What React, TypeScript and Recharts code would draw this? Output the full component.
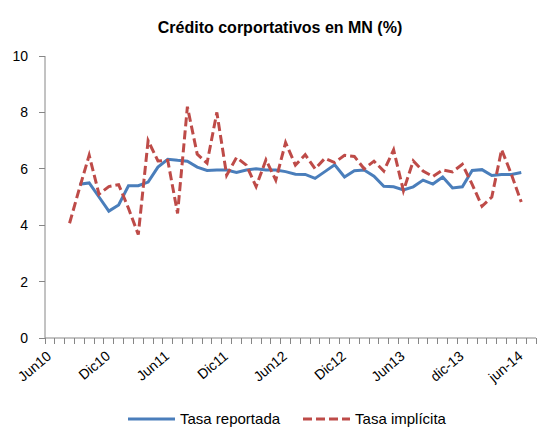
import React from 'react';
import { ComposedChart, Line, XAxis, YAxis, Scatter } from 'recharts';

const months = [
  'Jun10', 'Jul10', 'Ago10', 'Sep10', 'Oct10', 'Nov10', 'Dic10',
  'Ene11', 'Feb11', 'Mar11', 'Abr11', 'May11', 'Jun11', 'Jul11', 'Ago11', 'Sep11', 'Oct11', 'Nov11', 'Dic11',
  'Ene12', 'Feb12', 'Mar12', 'Abr12', 'May12', 'Jun12', 'Jul12', 'Ago12', 'Sep12', 'Oct12', 'Nov12', 'Dic12',
  'Ene13', 'Feb13', 'Mar13', 'Abr13', 'May13', 'Jun13', 'Jul13', 'Ago13', 'Sep13', 'Oct13', 'Nov13', 'dic-13',
  'Ene14', 'Feb14', 'Mar14', 'Abr14', 'May14', 'jun-14',
];

const tasaReportada: (number | null)[] = [
  null, null, null, 5.45, 5.5, 5.0, 4.5,
  4.72, 5.4, 5.4, 5.53, 6.06, 6.34, 6.3, 6.27, 6.06, 5.94, 5.96, 5.96,
  5.87, 5.96, 6.0, 5.96, 5.96, 5.9, 5.81, 5.8, 5.66, 5.9, 6.14, 5.71,
  5.93, 5.96, 5.74, 5.38, 5.36, 5.25, 5.36, 5.6, 5.46, 5.71, 5.32, 5.36,
  5.94, 5.97, 5.76, 5.8, 5.8, 5.87,
];

const tasaImplicita: (number | null)[] = [
  null, null, 4.07, 5.3, 6.48, 5.1, 5.37,
  5.44, 4.6, 3.67, 7.0, 6.28, 6.3, 4.42, 8.2, 6.52, 6.2, 8.0, 5.77,
  6.4, 6.13, 5.37, 6.32, 5.6, 6.93, 6.13, 6.5, 6.0, 6.37, 6.22, 6.48,
  6.44, 6.0, 6.27, 5.92, 6.67, 5.22, 6.28, 5.92, 5.73, 5.96, 5.89, 6.16,
  5.45, 4.67, 5.0, 6.68, 5.8, 4.82,
];

const labelMonths = ['Jun10', 'Dic10', 'Jun11', 'Dic11', 'Jun12', 'Dic12', 'Jun13', 'dic-13', 'jun-14'];
const yTicks = [0, 2, 4, 6, 8, 10];
const categoryCount = 50;

const BLUE = '#4A7EBB';
const RED = '#BE4B48';
const AXIS = '#868686';
const FONT = "'Liberation Sans', Arial, sans-serif";
const DASH = '9 4';
const TICK_SIZE = 6;

const data = months.map((m, i) => ({
  x: i + 0.5,
  month: m,
  reportada: tasaReportada[i],
  implicita: tasaImplicita[i],
}));

const edgeTicks = Array.from({ length: categoryCount + 1 }, (_, i) => i);
const edgeTickData = edgeTicks.map((t) => ({ x: t, y: 0 }));
const labelTicks = labelMonths.map((m) => months.indexOf(m) + 0.5);
const allXTicks = [...edgeTicks, ...labelTicks].sort((a, b) => a - b);

const series = [
  { key: 'reportada', name: 'Tasa reportada', color: BLUE, dash: undefined as string | undefined },
  { key: 'implicita', name: 'Tasa implícita', color: RED, dash: DASH },
];

const crisp = (v: number) => Math.round(v - 0.5) + 0.5;

const XTick = (props: any) => {
  const { x, y, payload } = props;
  const v = Number(payload.value);
  const isLabel = Math.abs(v - Math.floor(v) - 0.5) < 1e-6;
  if (!isLabel) {
    const px = crisp(Number(x));
    return (
      <g>
        <line x1={px} x2={px} y1={Number(y) - TICK_SIZE} y2={Number(y)} stroke={AXIS} strokeWidth={1} shapeRendering="crispEdges" />
      </g>
    );
  }
  const ax = x - 4;
  const ay = y + 6;
  return (
    <g>
      <text
        x={ax}
        y={ay}
        dy="0.71em"
        textAnchor="end"
        transform={`rotate(-40 ${ax} ${ay})`}
        fontSize={14}
        fill="#000"
        fontFamily={FONT}
      >
        {months[Math.floor(v)]}
      </text>
    </g>
  );
};

const EdgeTickShape = (props: any) => {
  const { cx, cy } = props;
  if (cx == null || cy == null || Number.isNaN(Number(cx))) return <g />;
  const px = crisp(Number(cx));
  const py = Number(cy);
  return <line x1={px} x2={px} y1={py} y2={py + TICK_SIZE} stroke={AXIS} strokeWidth={1} shapeRendering="crispEdges" />;
};

const YTick = (props: any) => {
  const { x, y, payload } = props;
  const cy = crisp(y);
  return (
    <g>
      <line x1={x + 11} x2={x + 11 + TICK_SIZE} y1={cy} y2={cy} stroke={AXIS} strokeWidth={1} shapeRendering="crispEdges" />
      <text x={x} y={y} dy="0.355em" textAnchor="end" fontSize={14} fill="#000" fontFamily={FONT}>
        {payload.value}
      </text>
    </g>
  );
};

export default function App() {
  return (
    <div style={{ position: 'absolute', left: 0, top: 0, width: 542, height: 439, background: '#fff', fontFamily: FONT }}>
      <div
        style={{
          position: 'absolute', left: 0, top: 19, width: 560, textAlign: 'center',
          fontSize: 16, fontWeight: 'bold', lineHeight: '18px', color: '#000',
        }}
      >
        Crédito corportativos en MN (%)
      </div>
      <ComposedChart width={542} height={439} data={data} margin={{ top: 56, right: 6, bottom: 58, left: 0 }}>
        <XAxis
          type="number"
          dataKey="x"
          domain={[0, categoryCount]}
          ticks={allXTicks}
          interval={0}
          tick={(p: any) => <XTick {...p} />}
          tickLine={false}
          tickSize={TICK_SIZE}
          tickMargin={0}
          height={43}
          stroke={AXIS}
        />
        <YAxis
          type="number"
          domain={[0, 10]}
          ticks={yTicks}
          interval={0}
          width={45}
          tickSize={TICK_SIZE}
          tickMargin={11}
          tickLine={false}
          stroke={AXIS}
          tick={(p: any) => <YTick {...p} />}
        />
        <Scatter
          data={edgeTickData}
          dataKey="y"
          shape={(p: any) => <EdgeTickShape {...p} />}
          isAnimationActive={false}
          legendType="none"
        />
        {series.map((s) => (
          <Line
            key={s.key}
            type="linear"
            dataKey={s.key}
            name={s.name}
            stroke={s.color}
            strokeWidth={3}
            strokeDasharray={s.dash}
            dot={false}
            activeDot={false}
            isAnimationActive={false}
            connectNulls={false}
          />
        ))}
      </ComposedChart>
      <div
        style={{
          position: 'absolute', left: 128, top: 410, display: 'flex', alignItems: 'center',
          fontSize: 15, lineHeight: '18px', color: '#000',
        }}
      >
        {series.map((s, i) => (
          <div key={s.key} style={{ display: 'flex', alignItems: 'center', marginRight: i === 0 ? 23 : 0 }}>
            <svg width={47} height={18} style={{ marginRight: 5 }}>
              <line x1={0} y1={9} x2={47} y2={9} stroke={s.color} strokeWidth={3} strokeDasharray={s.dash} />
            </svg>
            <span>{s.name}</span>
          </div>
        ))}
      </div>
    </div>
  );
}
